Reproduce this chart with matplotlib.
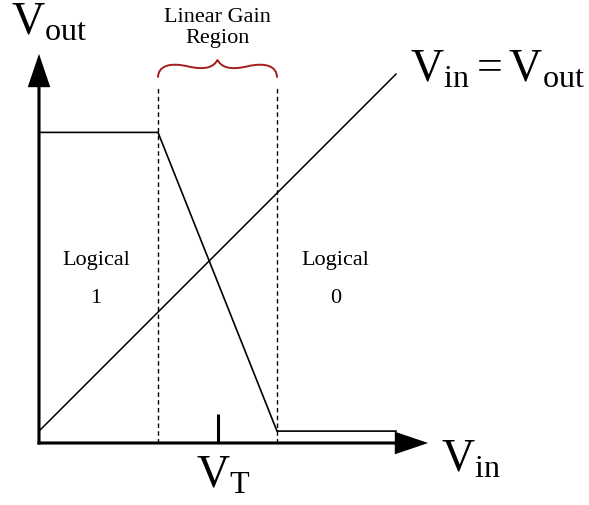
import matplotlib.pyplot as plt
from matplotlib.path import Path
from matplotlib.patches import PathPatch

plt.rcParams['font.family'] = ['Liberation Serif', 'DejaVu Serif']
plt.rcParams['mathtext.fontset'] = 'custom'
plt.rcParams['mathtext.rm'] = 'Liberation Serif'
plt.rcParams['mathtext.it'] = 'Liberation Serif:italic'

# transfer curve of the inverter (arbitrary units)
vin = [0.0, 1.0, 2.0, 3.0]
vout = [2.61, 2.61, 0.1, 0.1]

# reference line Vin = Vout
ref_x = [0.0, 3.0]
ref_y = [0.1, 3.1]

v_il, v_ih = 1.0, 2.0   # edges of the linear gain region
v_t = 1.5               # switching threshold
axis_max = 3.27
dash_top = 3.0

fig = plt.figure(figsize=(5.89, 5.05), dpi=100)
ax = fig.add_axes([0, 0, 1, 1])
ax.set_xlim(-39 / 119, 550 / 119)
ax.set_ylim(-62 / 119, 443 / 119)
ax.axis('off')

# axes with arrow heads
w = 0.026
ax.arrow(-w / 2, 0, axis_max + w / 2, 0, width=w, head_width=0.19, head_length=0.28,
         length_includes_head=True, color='black', lw=0)
ax.arrow(0, -w / 2, 0, axis_max + w / 2, width=w, head_width=0.19, head_length=0.28,
         length_includes_head=True, color='black', lw=0)

# curves
ax.plot(vin, vout, color='black', lw=1.2, solid_joinstyle='miter')
ax.plot(ref_x, ref_y, color='black', lw=1.1)

# region boundaries
for xv in (v_il, v_ih):
    ax.plot([xv, xv], [0, dash_top], color='black', lw=1.0, linestyle=(0, (3.2, 2.4)))

# threshold tick
ax.plot([v_t, v_t], [0, 0.244], color='black', lw=2.2, solid_capstyle='butt')

# curly brace over the linear gain region
yb, ya, yp = 3.07, 3.165, 3.22
verts = [(v_il, yb), (v_il, 3.17), (1.1, 3.20), (1.25, ya),
         (1.40, 3.13), (1.47, 3.16), (v_t, yp),
         (1.53, 3.16), (1.60, 3.13), (1.75, ya),
         (1.9, 3.20), (v_ih, 3.17), (v_ih, yb)]
codes = [Path.MOVETO] + [Path.CURVE4] * 12
ax.add_patch(PathPatch(Path(verts, codes), facecolor='none', edgecolor='#a51d1d', lw=1.4))

# labels
big = 33
ax.text(-0.235, 3.43, r'$\mathrm{V}_{\mathrm{out}}$', fontsize=big, ha='left', va='baseline')
ax.text(3.38, -0.244, r'$\mathrm{V}_{\mathrm{in}}$', fontsize=big, ha='left', va='baseline')
ax.text(1.55, -0.378, r'$\mathrm{V}_{\mathrm{T}}$', fontsize=big, ha='center', va='baseline')
ax.text(3.12, 3.04, r'$\mathrm{V}_{\mathrm{in}} = \mathrm{V}_{\mathrm{out}}$', fontsize=big,
        ha='left', va='baseline')

ax.text(v_t, 3.54, 'Linear Gain', fontsize=16, ha='center', va='baseline')
ax.text(v_t, 3.36, 'Region', fontsize=16, ha='center', va='baseline')
ax.text(0.48, 1.50, 'Logical', fontsize=16, ha='center', va='baseline')
ax.text(0.48, 1.18, '1', fontsize=16, ha='center', va='baseline')
ax.text(2.49, 1.50, 'Logical', fontsize=16, ha='center', va='baseline')
ax.text(2.49, 1.18, '0', fontsize=16, ha='center', va='baseline')

fig.savefig('out.png', dpi=100)
